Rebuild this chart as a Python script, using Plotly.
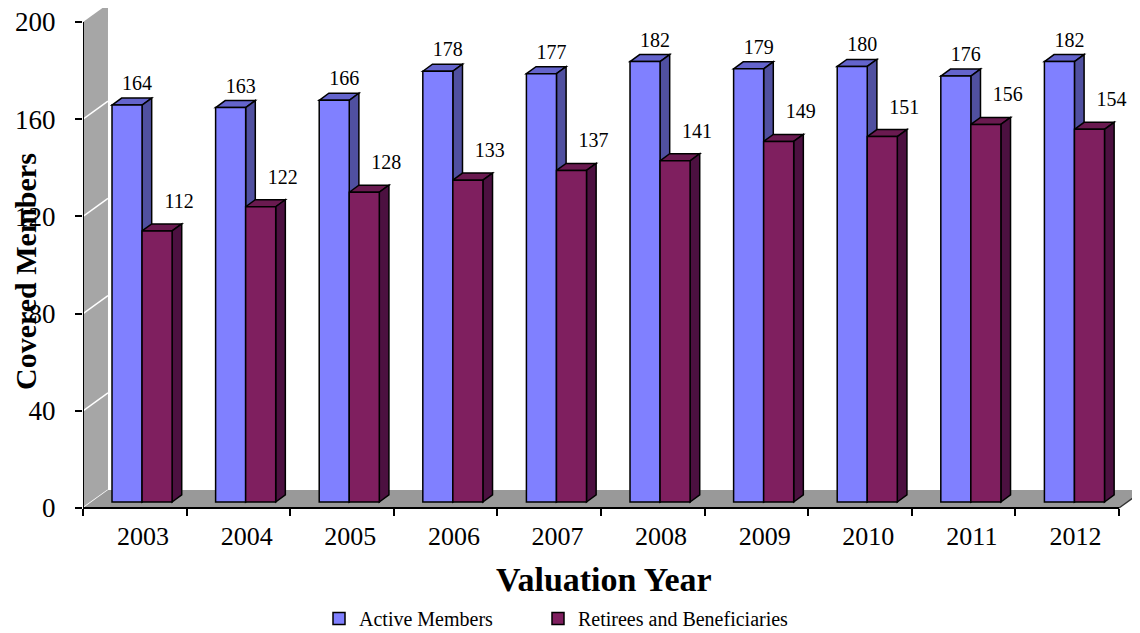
import plotly.graph_objects as go

years = ["2003", "2004", "2005", "2006", "2007", "2008", "2009", "2010", "2011", "2012"]
active = [164, 163, 166, 178, 177, 182, 179, 180, 176, 182]
retirees = [112, 122, 128, 133, 137, 141, 149, 151, 156, 154]
yticks = [0, 40, 80, 120, 160, 200]

FONT = "Liberation Serif"
# the page body adds an 8px margin; the figure is sized/shifted to compensate
OFF = 8
FIG_W, FIG_H = 1140 - OFF, 633 - OFF
PLOT_L, PLOT_R, PLOT_T, PLOT_B = 83, 1140, OFF, 512  # page pixels
PW = PLOT_R - PLOT_L
PH = PLOT_B - PLOT_T


def px(x):
    return (x - PLOT_L) / PW


def py(y):
    return (PLOT_B - y) / PH


# geometry (in axis units)
W = 0.29
A_OFF = 0.425
R_OFF = 0.715
DX = 0.093
DY = 2.9
WALL_DX = 0.241
WALL_DY = 7.4
CAT_PX = 103.6
PX_PER_Y1 = 2.43
PX_PER_Y2 = 2.42
ZERO1 = 508   # page y of value 0 on the front axis
ZERO2 = 502   # page y of bar bases

n = len(years)
ax = [i + A_OFF for i in range(n)]
rx = [i + R_OFF for i in range(n)]

fig = go.Figure()
fig.add_trace(go.Bar(x=ax, y=active, width=W, name="Active Members", legendwidth=174,
                     marker=dict(color="#8080FF", line=dict(color="black", width=1.5)),
                     xaxis="x", yaxis="y2"))
fig.add_trace(go.Bar(x=rx, y=retirees, width=W, name="Retirees and Beneficiaries",
                     marker=dict(color="#7F1F5F", line=dict(color="black", width=1.5)),
                     xaxis="x", yaxis="y2"))
fig.add_trace(go.Scatter(x=[v + 10 / CAT_PX for v in ax], y=[v + 20 / PX_PER_Y2 for v in active],
                         text=[str(v) for v in active], mode="text",
                         textfont=dict(family=FONT, size=20, color="black"),
                         showlegend=False, hoverinfo="skip", cliponaxis=False,
                         xaxis="x", yaxis="y2"))
fig.add_trace(go.Scatter(x=[v + 22 / CAT_PX for v in rx], y=[v + 28 / PX_PER_Y2 for v in retirees],
                         text=[str(v) for v in retirees], mode="text",
                         textfont=dict(family=FONT, size=20, color="black"),
                         showlegend=False, hoverinfo="skip", cliponaxis=False,
                         xaxis="x", yaxis="y2"))

shapes = []
shapes.append(dict(type="path", xref="x", yref="y", layer="below",
                   path=f"M0,0 L{WALL_DX},{WALL_DY} L{WALL_DX},{200 + WALL_DY} L0,200 Z",
                   fillcolor="#A6A6A6", line=dict(width=0)))
for t in yticks[:-1]:
    shapes.append(dict(type="line", xref="x", yref="y", layer="below",
                       x0=0, y0=t, x1=WALL_DX, y1=t + WALL_DY,
                       line=dict(color="white", width=1.5)))
shapes.append(dict(type="path", xref="x", yref="y", layer="below",
                   path=f"M0,0 L{WALL_DX},{WALL_DY} L{n + WALL_DX},{WALL_DY} L{n},0 Z",
                   fillcolor="#999999", line=dict(width=0)))
shapes.append(dict(type="line", xref="x", yref="y", layer="below",
                   x0=n, y0=0, x1=n + WALL_DX, y1=WALL_DY,
                   line=dict(color="#333333", width=1.5)))


def faces(xc, v, top_col, side_col):
    x0, x1 = xc - W / 2, xc + W / 2
    return [
        dict(type="path", xref="x", yref="y2", layer="below",
             path=f"M{x0},{v} L{x0 + DX},{v + DY} L{x1 + DX},{v + DY} L{x1},{v} Z",
             fillcolor=top_col, line=dict(color="black", width=1.5)),
        dict(type="path", xref="x", yref="y2", layer="below",
             path=f"M{x1},0 L{x1 + DX},{DY} L{x1 + DX},{v + DY} L{x1},{v} Z",
             fillcolor=side_col, line=dict(color="black", width=1.5)),
    ]


for i in range(n):
    shapes += faces(ax[i], active[i], "#6464CC", "#5050A0")
    shapes += faces(rx[i], retirees[i], "#6A1A50", "#4C1040")

shapes.append(dict(type="line", xref="x", yref="y", layer="above",
                   x0=0, y0=0, x1=0, y1=200, line=dict(color="black", width=2)))
shapes.append(dict(type="line", xref="x", yref="y", layer="above",
                   x0=0, y0=0, x1=n, y1=0, line=dict(color="black", width=2)))

fig.update_layout(
    width=FIG_W, height=FIG_H,
    margin=dict(l=PLOT_L - OFF, r=0, t=0, b=FIG_H - (PLOT_B - OFF), autoexpand=False),
    paper_bgcolor="white", plot_bgcolor="white",
    barmode="overlay",
    shapes=shapes,
    font=dict(family=FONT, color="black"),
    xaxis=dict(range=[0, PW / CAT_PX], showgrid=False, zeroline=False, showline=False,
               tickmode="array", tickvals=[i + 0.58 for i in range(n)], ticktext=years,
               ticks="", tickfont=dict(family=FONT, size=26, color="black"),
               ticklabelstandoff=10,
               anchor="free", position=py(ZERO1),
               minor=dict(tickmode="array", tickvals=list(range(n + 1)), ticks="outside",
                          ticklen=7, tickwidth=1.5, tickcolor="black", showgrid=False)),
    yaxis=dict(range=[-(PLOT_B - ZERO1) / PX_PER_Y1, (ZERO1 - PLOT_T) / PX_PER_Y1],
               showgrid=False, zeroline=False, showline=False,
               tickmode="array", tickvals=yticks, ticks="outside", ticklen=7,
               tickwidth=1.5, tickcolor="black", ticklabeloverflow="allow",
               tickfont=dict(family=FONT, size=27, color="black"),
               ticklabelstandoff=14),
    yaxis2=dict(range=[-(PLOT_B - ZERO2) / PX_PER_Y2, (ZERO2 - PLOT_T) / PX_PER_Y2],
                overlaying="y", visible=False),
    legend=dict(orientation="h", x=px(319), xanchor="left",
                y=py(599), yanchor="top",
                font=dict(family=FONT, size=20, color="black"),
                bgcolor="rgba(0,0,0,0)"),
    annotations=[
        dict(text="<b>Covered Members</b>", xref="paper", yref="paper",
             x=px(25), y=py(272), textangle=-90,
             showarrow=False, xanchor="center", yanchor="middle",
             font=dict(family=FONT, size=30, color="black")),
        dict(text="<b>Valuation Year</b>", xref="paper", yref="paper",
             x=px(604), y=py(579),
             showarrow=False, xanchor="center", yanchor="middle",
             font=dict(family=FONT, size=34, color="black")),
    ],
)

fig.write_html("out.html")
